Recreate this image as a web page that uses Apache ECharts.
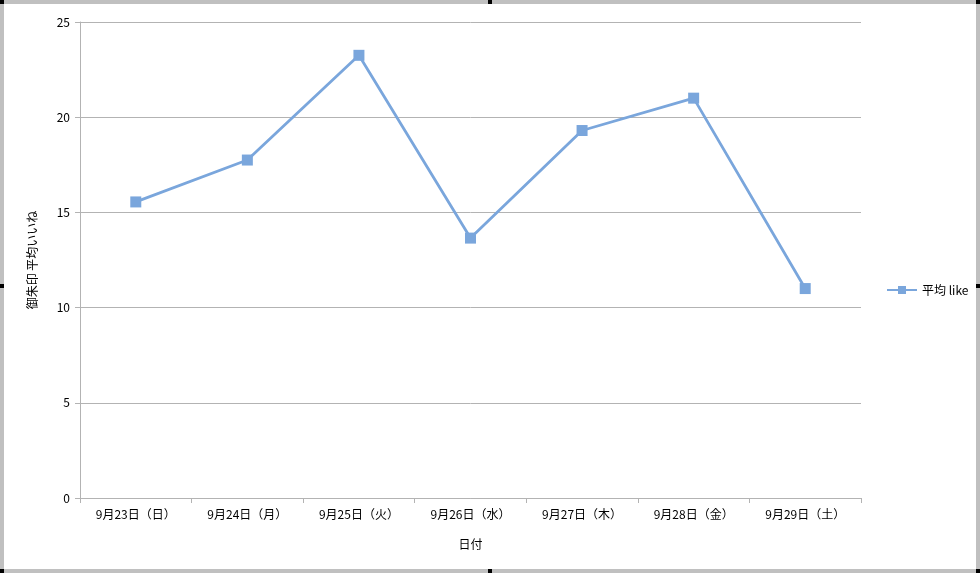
<!DOCTYPE html>
<html><head><meta charset="utf-8">
<script src="https://cdn.jsdelivr.net/npm/echarts@6/dist/echarts.min.js"></script>
<style>html,body{margin:0;padding:0;background:#fff}#c{width:980px;height:573px}</style>
</head><body><div id="c"></div>
<script>
const categories = ['9月23日（日）','9月24日（月）','9月25日（火）','9月26日（水）','9月27日（木）','9月28日（金）','9月29日（土）'];
const avgLike = [15.55, 17.75, 23.25, 13.65, 19.3, 21.0, 11.0];
const seriesName = '平均 like';
const yAxisName = '御朱印 平均いいね';
const xAxisName = '日付';

const font = '"Noto Sans CJK JP", "Noto Sans", sans-serif';
const chart = echarts.init(document.getElementById('c'));
const frame = '#c0c0c0';
const handles = [[0,0],[488,0],[976,0],[0,284],[976,284],[0,569],[488,569],[976,569]];
chart.setOption({
  animation:false,
  textStyle:{fontFamily:font},
  grid:{left:80,right:119,top:22,bottom:75,containLabel:false},
  legend:{left:881,top:279,orient:'vertical',itemWidth:30,itemHeight:10,itemGap:4,
    textStyle:{fontSize:12,color:'#000',fontFamily:font},
    data:[{name:seriesName}]},
  xAxis:{type:'category',data:categories,boundaryGap:true,
    name:xAxisName,nameLocation:'middle',nameGap:40,
    nameTextStyle:{fontSize:12,color:'#000',fontFamily:font},
    axisLine:{lineStyle:{color:'#b3b3b3',width:1}},
    axisTick:{show:true,length:5,lineStyle:{color:'#b3b3b3'}},
    axisLabel:{fontSize:12,color:'#000',margin:10,fontFamily:font}},
  yAxis:{type:'value',min:0,max:25,interval:5,
    name:yAxisName,nameLocation:'middle',nameGap:42,
    nameTextStyle:{fontSize:12,color:'#000',fontFamily:font},
    axisLine:{show:true,lineStyle:{color:'#b3b3b3'}},
    axisTick:{show:true,length:5,lineStyle:{color:'#b3b3b3'}},
    axisLabel:{fontSize:12,color:'#000',margin:10,fontFamily:font},
    splitLine:{lineStyle:{color:'#b3b3b3'}}},
  series:[{name:seriesName,type:'line',data:avgLike,
    symbol:'rect',symbolSize:11,
    lineStyle:{color:'#7aa6dc',width:2.8},
    itemStyle:{color:'#7aa6dc'}}],
  graphic:[
    {type:'rect',shape:{x:0,y:0,width:980,height:4},style:{fill:frame},silent:true},
    {type:'rect',shape:{x:0,y:569,width:980,height:4},style:{fill:frame},silent:true},
    {type:'rect',shape:{x:0,y:0,width:4,height:573},style:{fill:frame},silent:true},
    {type:'rect',shape:{x:976,y:0,width:4,height:573},style:{fill:frame},silent:true}
  ].concat(handles.map(h=>({type:'rect',shape:{x:h[0],y:h[1],width:4,height:4},style:{fill:'#000'},silent:true})))
});
</script></body></html>
